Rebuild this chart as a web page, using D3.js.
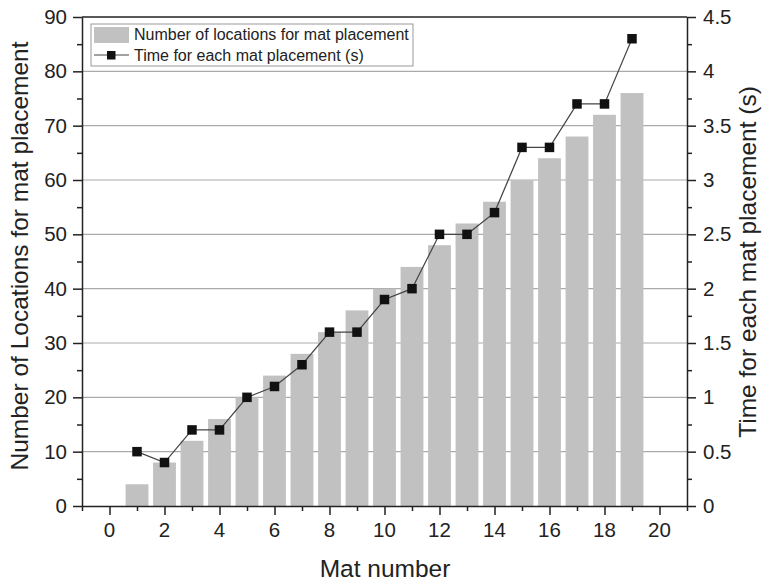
<!DOCTYPE html>
<html>
<head>
<meta charset="utf-8">
<script src="https://cdn.jsdelivr.net/npm/d3@7"></script>
<style>
  body { margin: 0; background: #fff; }
  svg text { font-family: "Liberation Sans", Arial, sans-serif; fill: #222; }
</style>
</head>
<body>
<div id="holder"></div>
<script>
const matNumbers = [1, 2, 3, 4, 5, 6, 7, 8, 9, 10, 11, 12, 13, 14, 15, 16, 17, 18, 19];
const locations = [4, 8, 12, 16, 20, 24, 28, 32, 36, 40, 44, 48, 52, 56, 60, 64, 68, 72, 76];
const times = [0.5, 0.4, 0.7, 0.7, 1.0, 1.1, 1.3, 1.6, 1.6, 1.9, 2.0, 2.5, 2.5, 2.7, 3.3, 3.3, 3.7, 3.7, 4.3];
const xTicks = [0, 2, 4, 6, 8, 10, 12, 14, 16, 18, 20];
const leftTicks = [0, 10, 20, 30, 40, 50, 60, 70, 80, 90];
const rightTicks = [0, 0.5, 1, 1.5, 2, 2.5, 3, 3.5, 4, 4.5];

const w = 763, h = 582;
const pLeft = 82, pRight = 687, pTop = 17, pBottom = 506;
const tickFont = 20.5, titleFont = 24.5;

const svg = d3.select('#holder')
    .append('svg')
    .attr('width', w)
    .attr('height', h);

const xScale = d3.scaleLinear().domain([-1, 21]).range([pLeft, pRight]);
const yScale = d3.scaleLinear().domain([0, 90]).range([pBottom, pTop]);
const y2Scale = d3.scaleLinear().domain([0, 4.5]).range([pBottom, pTop]);

// grid
svg.append('g')
    .selectAll('line')
    .data(leftTicks.filter(d => d > 0 && d < 90))
    .enter()
    .append('line')
    .attr('x1', pLeft).attr('x2', pRight)
    .attr('y1', d => yScale(d)).attr('y2', d => yScale(d))
    .attr('stroke', '#aaa')
    .attr('stroke-width', 1.2);

// bars
const bw = (xScale(1) - xScale(0)) * 0.83;
svg.append('g')
    .selectAll('rect')
    .data(locations)
    .enter()
    .append('rect')
    .attr('x', (_, i) => xScale(matNumbers[i]) - bw / 2)
    .attr('y', d => yScale(d))
    .attr('width', bw)
    .attr('height', d => pBottom - yScale(d))
    .attr('fill', '#c1c1c1');

// line + markers
const line = d3.line()
    .x((_, i) => xScale(matNumbers[i]))
    .y(d => y2Scale(d));

svg.append('path')
    .datum(times)
    .attr('d', line)
    .attr('fill', 'none')
    .attr('stroke', '#444')
    .attr('stroke-width', 1.2);

const ms = 9.5;
svg.append('g')
    .selectAll('rect')
    .data(times)
    .enter()
    .append('rect')
    .attr('x', (_, i) => xScale(matNumbers[i]) - ms / 2)
    .attr('y', d => y2Scale(d) - ms / 2)
    .attr('width', ms)
    .attr('height', ms)
    .attr('fill', '#111');

// axes
const xAxis = d3.axisBottom(xScale)
    .tickValues(d3.range(-1, 22, 1))
    .tickSize(0)
    .tickFormat('');
const xg = svg.append('g')
    .attr('transform', 'translate(0,' + pBottom + ')')
    .call(xAxis);
xg.selectAll('.tick line')
    .attr('stroke', '#222')
    .attr('stroke-width', 1.5)
    .attr('y2', d => d % 2 === 0 ? 9 : 5);

svg.append('g')
    .selectAll('text')
    .data(xTicks)
    .enter()
    .append('text')
    .attr('x', d => xScale(d))
    .attr('y', pBottom + 31)
    .attr('text-anchor', 'middle')
    .attr('font-size', tickFont)
    .text(d => d);

const yAxis = d3.axisLeft(yScale)
    .tickValues(d3.range(0, 91, 5))
    .tickSize(0)
    .tickFormat('');
const yg = svg.append('g')
    .attr('transform', 'translate(' + pLeft + ',0)')
    .call(yAxis);
yg.selectAll('.tick line')
    .attr('stroke', '#222')
    .attr('stroke-width', 1.5)
    .attr('x2', d => d % 10 === 0 ? -9 : -5);

svg.append('g')
    .selectAll('text')
    .data(leftTicks)
    .enter()
    .append('text')
    .attr('x', pLeft - 15)
    .attr('y', d => yScale(d) + 7)
    .attr('text-anchor', 'end')
    .attr('font-size', tickFont)
    .text(d => d);

const y2Axis = d3.axisRight(y2Scale)
    .tickValues(d3.range(0, 4.51, 0.25))
    .tickSize(0)
    .tickFormat('');
const y2g = svg.append('g')
    .attr('transform', 'translate(' + pRight + ',0)')
    .call(y2Axis);
y2g.selectAll('.tick line')
    .attr('stroke', '#222')
    .attr('stroke-width', 1.5)
    .attr('x2', (d, i) => i % 2 === 0 ? 9 : 5);

svg.append('g')
    .selectAll('text')
    .data(rightTicks)
    .enter()
    .append('text')
    .attr('x', pRight + 16)
    .attr('y', d => y2Scale(d) + 7)
    .attr('text-anchor', 'start')
    .attr('font-size', tickFont)
    .text(d => d);

[xg, yg, y2g].forEach(g => g.select('.domain')
    .attr('stroke', '#222')
    .attr('stroke-width', 1.5));

// top frame
svg.append('line')
    .attr('x1', pLeft).attr('x2', pRight)
    .attr('y1', pTop).attr('y2', pTop)
    .attr('stroke', '#222')
    .attr('stroke-width', 1.5);

// titles
svg.append('text')
    .attr('x', 385)
    .attr('y', 577)
    .attr('text-anchor', 'middle')
    .attr('font-size', titleFont)
    .text('Mat number');

svg.append('text')
    .attr('transform', 'translate(28,256) rotate(-90)')
    .attr('text-anchor', 'middle')
    .attr('font-size', titleFont)
    .text('Number of Locations for mat placement');

svg.append('text')
    .attr('transform', 'translate(756,262) rotate(-90)')
    .attr('text-anchor', 'middle')
    .attr('font-size', titleFont)
    .text('Time for each mat placement (s)');

// legend
const lg = svg.append('g');
lg.append('rect')
    .attr('x', 91).attr('y', 24)
    .attr('width', 322).attr('height', 42)
    .attr('fill', '#fff')
    .attr('stroke', '#999')
    .attr('stroke-width', 1);
lg.append('rect')
    .attr('x', 94).attr('y', 27)
    .attr('width', 35).attr('height', 16)
    .attr('fill', '#c1c1c1');
lg.append('line')
    .attr('x1', 94).attr('x2', 129)
    .attr('y1', 55).attr('y2', 55)
    .attr('stroke', '#444')
    .attr('stroke-width', 1.2);
lg.append('rect')
    .attr('x', 107).attr('y', 51)
    .attr('width', 8.5).attr('height', 8.5)
    .attr('fill', '#111');
lg.append('text')
    .attr('x', 134).attr('y', 40)
    .attr('font-size', 16)
    .text('Number of locations for mat placement');
lg.append('text')
    .attr('x', 134).attr('y', 61)
    .attr('font-size', 16)
    .text('Time for each mat placement (s)');
</script>
</body>
</html>
